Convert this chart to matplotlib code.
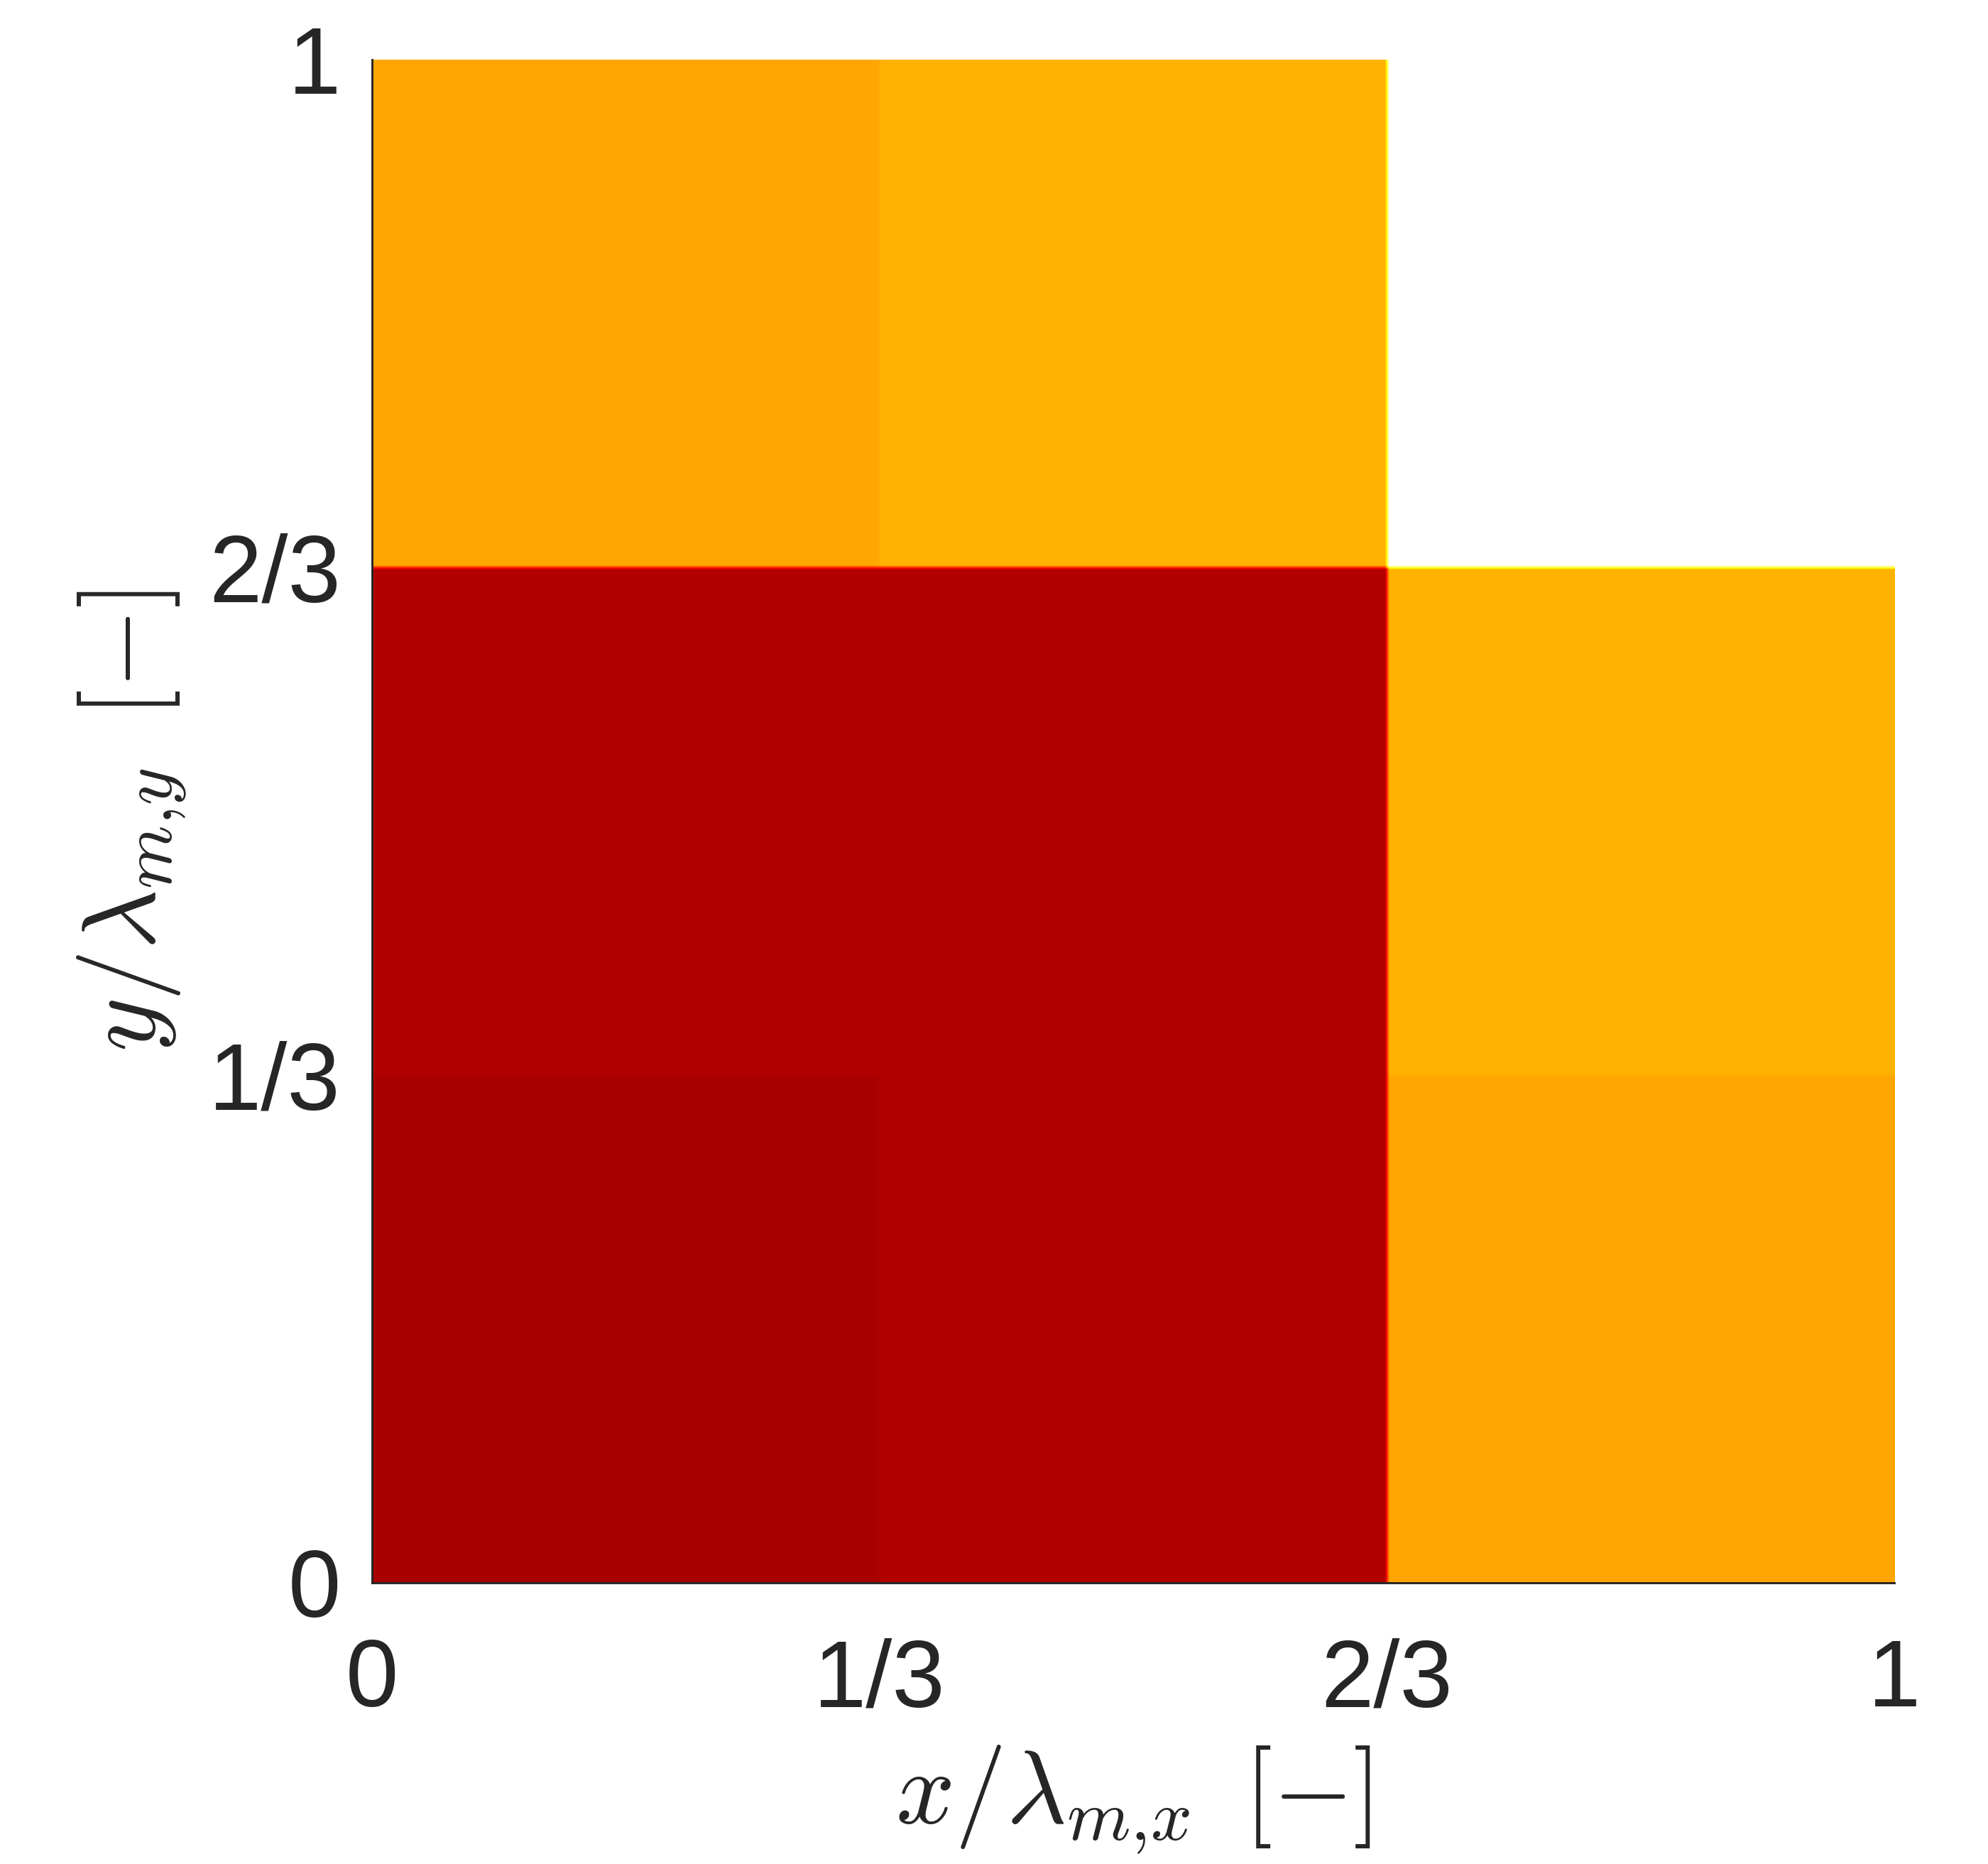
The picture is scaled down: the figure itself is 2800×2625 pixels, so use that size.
import numpy as np
import matplotlib
matplotlib.use("Agg")
import matplotlib.pyplot as plt

# cell values (hot colormap, 0..1), rows from bottom to top
row_bottom = [0.238, 0.252, 0.613]
row_middle = [0.252, 0.252, 0.632]
row_top = [0.615, 0.632, 1.0]

tick_pos = [0, 1/3, 2/3, 1]
tick_labels = ['0', '1/3', '2/3', '1']

plt.rcParams['font.family'] = ['Liberation Sans', 'DejaVu Sans']
plt.rcParams['mathtext.fontset'] = 'cm'
txt_col = '#262626'

grid = np.array([row_bottom, row_middle, row_top])
# same cells on a finer raster so the smooth resampling only blurs the cell borders
fine = np.repeat(np.repeat(grid, 120, axis=0), 120, axis=1)

fig = plt.figure(figsize=(8, 7.5), dpi=350)
ax = fig.add_axes([0.187, 0.151, 0.766, 0.817])

ax.imshow(fine, cmap='hot', vmin=0, vmax=1, origin='lower',
          extent=[0, 1, 0, 1], interpolation='bilinear', aspect='auto')

ax.set_xlim(0, 1)
ax.set_ylim(0, 1)
ax.set_xticks(tick_pos)
ax.set_xticklabels(tick_labels)
ax.set_yticks(tick_pos)
ax.set_yticklabels(tick_labels)
ax.tick_params(axis='both', length=0, labelsize=27.5, colors=txt_col)
ax.tick_params(axis='x', pad=16)
ax.tick_params(axis='y', pad=9)

for side in ['top', 'right']:
    ax.spines[side].set_visible(False)
for side in ['left', 'bottom']:
    ax.spines[side].set_linewidth(0.6)
    ax.spines[side].set_color(txt_col)

ax.set_xlabel(r'$x/\lambda_{m{,}x}\ \,[-]$', fontsize=30, color=txt_col, labelpad=5)
ax.set_ylabel(r'$y/\lambda_{m{,}y}\ \,[-]$', fontsize=30, color=txt_col, labelpad=6)

fig.savefig('out.png', dpi=350)
